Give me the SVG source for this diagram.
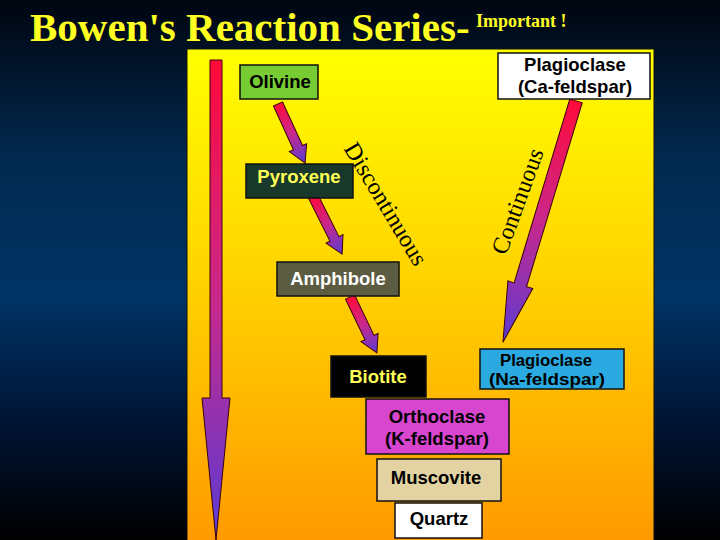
<svg xmlns="http://www.w3.org/2000/svg" width="720" height="540" viewBox="0 0 720 540">
  <defs>
    <linearGradient id="bg" x1="0" y1="0" x2="0" y2="1">
      <stop offset="0" stop-color="#000510"/>
      <stop offset="0.3" stop-color="#022a50"/>
      <stop offset="0.55" stop-color="#003366"/>
      <stop offset="0.8" stop-color="#001230"/>
      <stop offset="1" stop-color="#000000"/>
    </linearGradient>
    <linearGradient id="panel" x1="0" y1="0" x2="0" y2="1">
      <stop offset="0" stop-color="#ffff00"/>
      <stop offset="0.45" stop-color="#ffd400"/>
      <stop offset="1" stop-color="#ff9900"/>
    </linearGradient>
    <linearGradient id="ag" x1="0" y1="0" x2="1" y2="0">
      <stop offset="0" stop-color="#ff0a3a"/>
      <stop offset="0.5" stop-color="#c8288c"/>
      <stop offset="1" stop-color="#5a3cd4"/>
    </linearGradient>
    <linearGradient id="bigg" x1="0" y1="0" x2="0" y2="1">
      <stop offset="0" stop-color="#ff0a3a"/>
      <stop offset="0.5" stop-color="#c8288c"/>
      <stop offset="1" stop-color="#5a3cd4"/>
    </linearGradient>
    <style>
      .box { stroke: #111; stroke-width: 1.5; }
      .lbl { font-family: "Liberation Sans", "DejaVu Sans", sans-serif; font-weight: bold; font-size: 18.5px; text-anchor: middle; }
      .sm { font-size: 16px; }
      .arr { fill: url(#ag); stroke: #3a0010; stroke-width: 1; }
      .ser { font-family: "Liberation Serif", "Times New Roman", serif; font-size: 24px; fill: #000; text-anchor: middle; }
      .ttl { font-family: "Liberation Serif", "Times New Roman", serif; font-weight: bold; fill: #ffff22; }
    </style>
  </defs>

  <rect x="0" y="0" width="720" height="540" fill="url(#bg)"/>
  <rect x="187" y="49" width="467" height="495" fill="url(#panel)" stroke="#111" stroke-width="1"/>

  <g id="title">
    <text class="ttl" x="30" y="41" font-size="41">Bowen's Reaction Series-</text>
    <text class="ttl" x="476" y="27" font-size="18">Important !</text>
  </g>

  <g id="connectors">
    <polygon id="temp-arrow" points="210,60 222,60 222,398 230,398 216,540 202,398 210,398" fill="url(#bigg)" stroke="#3a0010" stroke-width="1"/>
    <g transform="translate(278,104) rotate(65.4)">
      <polygon class="arr" points="0,-5 48,-5 48,-9.5 65,0 48,9.5 48,5 0,5"/>
    </g>
    <g transform="translate(313,196) rotate(63.4)">
      <polygon class="arr" points="0,-5 48,-5 48,-9.5 65,0 48,9.5 48,5 0,5"/>
    </g>
    <g transform="translate(350,297) rotate(64.3)">
      <polygon class="arr" points="0,-5 45,-5 45,-9.5 62,0 45,9.5 45,5 0,5"/>
    </g>
    <g transform="translate(576,101) rotate(106.85)">
      <polygon class="arr" points="0,-6.5 192,-6.5 192,-13 252,0 192,13 192,6.5 0,6.5"/>
    </g>
    <text class="ser" transform="translate(379,208) rotate(59)">Discontinuous</text>
    <text class="ser" transform="translate(525,204) rotate(-70)">Continuous</text>
  </g>

  <g id="olivine">
    <rect class="box" x="240" y="65" width="78" height="34" fill="#77cc33"/>
    <text class="lbl" x="280" y="88" fill="#000">Olivine</text>
  </g>
  <g id="plagioclase-ca">
    <rect class="box" x="498" y="53" width="152" height="46" fill="#ffffff"/>
    <text class="lbl" x="575" y="71" font-size="17.5" fill="#000">Plagioclase</text>
    <text class="lbl" x="575" y="93" font-size="17.5" fill="#000">(Ca-feldspar)</text>
  </g>
  <g id="pyroxene">
    <rect class="box" x="246" y="164" width="107" height="34" fill="#17382a"/>
    <text class="lbl" x="299" y="183" fill="#ffff55">Pyroxene</text>
  </g>
  <g id="amphibole">
    <rect class="box" x="277" y="262" width="122" height="34" fill="#5c5c42"/>
    <text class="lbl" x="338" y="285" fill="#ffffff">Amphibole</text>
  </g>
  <g id="biotite">
    <rect class="box" x="331" y="356" width="95" height="41" fill="#000000"/>
    <text class="lbl" x="378" y="383" fill="#ffff55">Biotite</text>
  </g>
  <g id="plagioclase-na">
    <rect class="box" x="480" y="349" width="144" height="40" fill="#2aaae0"/>
    <text class="lbl sm" x="546" y="365.5" fill="#000" textLength="92" lengthAdjust="spacingAndGlyphs">Plagioclase</text>
    <text class="lbl sm" x="547" y="385" fill="#000" textLength="116" lengthAdjust="spacingAndGlyphs">(Na-feldspar)</text>
  </g>
  <g id="orthoclase">
    <rect class="box" x="366" y="399" width="143" height="55" fill="#d846cf"/>
    <text class="lbl" x="437" y="423" fill="#000">Orthoclase</text>
    <text class="lbl" x="437" y="445" fill="#000">(K-feldspar)</text>
  </g>
  <g id="muscovite">
    <rect class="box" x="377" y="459" width="124" height="42" fill="#e4d3a2"/>
    <text class="lbl" x="436" y="484" fill="#000">Muscovite</text>
  </g>
  <g id="quartz">
    <rect class="box" x="395" y="503" width="87" height="35" fill="#ffffff"/>
    <text class="lbl" x="439" y="525" fill="#000">Quartz</text>
  </g>
</svg>
